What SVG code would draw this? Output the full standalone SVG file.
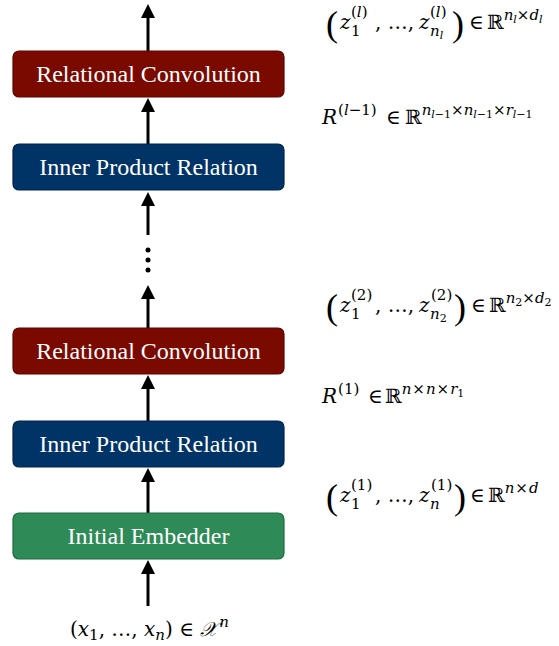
<svg xmlns="http://www.w3.org/2000/svg" width="559" height="646" viewBox="0 0 559 646">
<defs>
<marker id="ah" markerUnits="userSpaceOnUse" markerWidth="14" markerHeight="14" refX="1" refY="7" orient="auto">
<path d="M0,0 L14,7 L0,14 z" fill="#000"/>
</marker>
<style>
.box{stroke-width:1.2}
.rc{fill:#7a0900;stroke:#5e0700}
.ip{fill:#003366;stroke:#00244a}
.ie{fill:#2e8b57;stroke:#1f6b40}
.lbl{font-family:"Liberation Serif",serif;font-size:24px;fill:#fff;text-anchor:middle}
.m{font-family:"DejaVu Serif",serif;font-size:20px;fill:#000}
.i{font-style:italic}
.s{font-size:15px}
.ss{font-size:11px}
.big{font-family:"Liberation Serif",serif;font-size:36px}
.conn line{stroke:#000;stroke-width:3;marker-end:url(#ah)}
</style>
</defs>
<g id="connectors" class="conn">
<line x1="148" y1="51" x2="148" y2="17"/>
<line x1="148" y1="144" x2="148" y2="111"/>
<line x1="148" y1="235" x2="148" y2="205"/>
<line x1="148" y1="328" x2="148" y2="298"/>
<line x1="148" y1="421" x2="148" y2="388"/>
<line x1="148" y1="513" x2="148" y2="481"/>
<line x1="148" y1="606" x2="148" y2="573"/>
<circle cx="148" cy="250" r="2.5" fill="#000"/>
<circle cx="148" cy="260" r="2.5" fill="#000"/>
<circle cx="148" cy="270" r="2.5" fill="#000"/>
</g>
<g id="rc2"><rect class="box rc" x="13" y="51" width="271" height="46" rx="6"/><text class="lbl" x="148.5" y="82">Relational Convolution</text></g>
<g id="ip2"><rect class="box ip" x="13" y="144" width="271" height="46" rx="6"/><text class="lbl" x="148.5" y="175">Inner Product Relation</text></g>
<g id="rc1"><rect class="box rc" x="13" y="328" width="271" height="46" rx="6"/><text class="lbl" x="148.5" y="359">Relational Convolution</text></g>
<g id="ip1"><rect class="box ip" x="13" y="421" width="271" height="46" rx="6"/><text class="lbl" x="148.5" y="452">Inner Product Relation</text></g>
<g id="ie"><rect class="box ie" x="13" y="513" width="271" height="46" rx="6"/><text class="lbl" x="148.5" y="544">Initial Embedder</text></g>

<g id="label-zl">
<text class="m"><tspan class="big" x="326" y="36">(</tspan><tspan class="i" x="340" y="29">z</tspan><tspan class="s" x="351" y="36">1</tspan><tspan class="s" x="351" y="17">(</tspan><tspan class="s i">l</tspan><tspan class="s">)</tspan><tspan x="375" y="29">, …,</tspan><tspan class="i" x="419" y="29">z</tspan><tspan class="s i" x="430" y="36">n</tspan><tspan class="ss i" dy="3">l</tspan><tspan class="s" x="430" y="17">(</tspan><tspan class="s i">l</tspan><tspan class="s">)</tspan><tspan class="big" x="452" y="36">)</tspan><tspan x="469" y="29">∈</tspan><tspan x="487" y="29">ℝ</tspan><tspan class="s i" dy="-9">n</tspan><tspan class="ss i" dy="3">l</tspan><tspan class="s" dy="-3">×</tspan><tspan class="s i">d</tspan><tspan class="ss i" dy="3">l</tspan></text>
</g>
<g id="label-Rl">
<text class="m"><tspan class="i" x="322" y="124">R</tspan><tspan class="s" dy="-9" dx="1">(</tspan><tspan class="s i">l</tspan><tspan class="s">−1)</tspan><tspan x="386" y="124">∈</tspan><tspan x="405" y="124">ℝ</tspan><tspan class="s i" dy="-9">n</tspan><tspan class="ss i" dy="3">l</tspan><tspan class="ss">−1</tspan><tspan class="s" dy="-3">×</tspan><tspan class="s i">n</tspan><tspan class="ss i" dy="3">l</tspan><tspan class="ss">−1</tspan><tspan class="s" dy="-3">×</tspan><tspan class="s i">r</tspan><tspan class="ss i" dy="3">l</tspan><tspan class="ss">−1</tspan></text>
</g>
<g id="label-z2">
<text class="m"><tspan class="big" x="326" y="319">(</tspan><tspan class="i" x="340" y="312">z</tspan><tspan class="s" x="351" y="319">1</tspan><tspan class="s" x="351" y="300">(2)</tspan><tspan x="375" y="312">, …,</tspan><tspan class="i" x="419" y="312">z</tspan><tspan class="s i" x="430" y="319">n</tspan><tspan class="ss" dy="3">2</tspan><tspan class="s" x="431" y="300">(2)</tspan><tspan class="big" x="454" y="319">)</tspan><tspan x="471" y="312">∈</tspan><tspan x="489" y="312">ℝ</tspan><tspan class="s i" dy="-9">n</tspan><tspan class="ss" dy="3">2</tspan><tspan class="s" dy="-3">×</tspan><tspan class="s i">d</tspan><tspan class="ss" dy="3">2</tspan></text>
</g>
<g id="label-R1">
<text class="m"><tspan class="i" x="322" y="403">R</tspan><tspan class="s" dy="-9" dx="1">(1)</tspan><tspan x="368" y="403">∈</tspan><tspan x="385" y="403">ℝ</tspan><tspan class="s i" dy="-9">n</tspan><tspan class="s" dx="1">×</tspan><tspan class="s i" dx="1">n</tspan><tspan class="s" dx="1">×</tspan><tspan class="s i" dx="1">r</tspan><tspan class="ss" dy="3">1</tspan></text>
</g>
<g id="label-z1">
<text class="m"><tspan class="big" x="326" y="509">(</tspan><tspan class="i" x="340" y="502">z</tspan><tspan class="s" x="351" y="509">1</tspan><tspan class="s" x="351" y="490">(1)</tspan><tspan x="375" y="502">, …,</tspan><tspan class="i" x="419" y="502">z</tspan><tspan class="s i" x="430" y="509">n</tspan><tspan class="s" x="431" y="490">(1)</tspan><tspan class="big" x="454" y="509">)</tspan><tspan x="470" y="502">∈</tspan><tspan x="488" y="502">ℝ</tspan><tspan class="s i" dy="-9">n</tspan><tspan class="s" dx="1">×</tspan><tspan class="s i" dx="1">d</tspan></text>
</g>
<g id="label-x">
<text class="m"><tspan x="70" y="636">(</tspan><tspan class="i">x</tspan><tspan class="s" dy="4">1</tspan><tspan dy="-4">, …, </tspan><tspan class="i">x</tspan><tspan class="s i" dy="4">n</tspan><tspan dy="-4">) ∈ </tspan><tspan class="i">𝒳</tspan><tspan class="s i" dy="-9" dx="2">n</tspan></text>
</g>
</svg>
